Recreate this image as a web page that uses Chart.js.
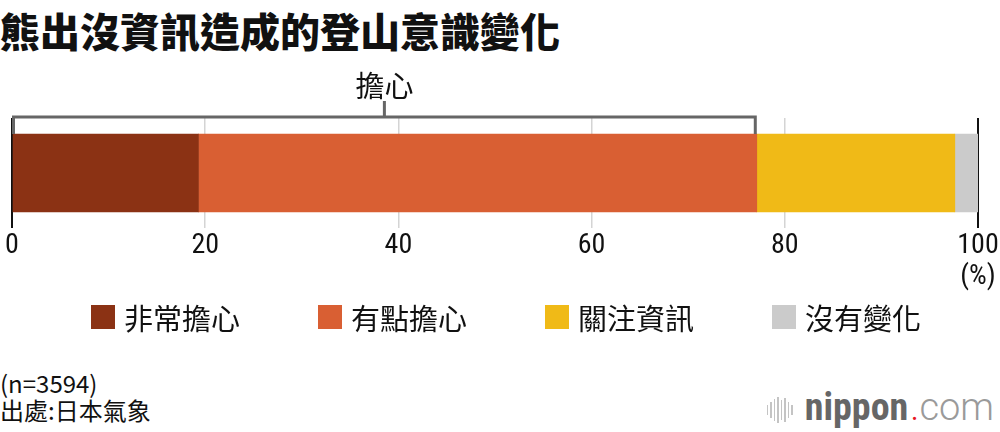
<!DOCTYPE html>
<html>
<head>
<meta charset="utf-8">
<script src="https://cdn.jsdelivr.net/npm/chart.js@4"></script>
<style>
  body { margin: 0; background: #fff; width: 1000px; height: 432px; overflow: hidden; position: relative; }
  .title { position: absolute; left: 0; top: 1px; font: 900 40px 'Noto Sans CJK TC', sans-serif; color: #111; }
  .chartBox { position: absolute; left: 0; top: 0; width: 1000px; height: 300px; }
  .legend { position: absolute; left: 0; top: 299px; width: 1000px; box-sizing: border-box; padding-left: 12px;
    display: flex; justify-content: center; gap: 78px;
    font: 29px 'Noto Sans CJK TC', sans-serif; color: #111; line-height: 36px; }
  .legend span { display: inline-flex; align-items: center; }
  .legend i { display: inline-block; width: 24px; height: 24px; margin-right: 9px; }
  .note { position: absolute; left: 0; font: 24px 'Noto Sans CJK TC', sans-serif; color: #111; }
  .logo { position: absolute; right: 6px; top: 385px; height: 44px; line-height: 44px; white-space: nowrap;
    font: 38px/44px 'Roboto Condensed', Roboto, sans-serif; color: #666; display: flex; align-items: baseline; }
  .logo b { font-weight: bold; }
  .logo .dot { color: #e8171f; font: 300 38px Roboto, sans-serif; margin-left: 2px; }
  .logo .com { color: #9a9a9a; font: 300 38px Roboto, sans-serif; }
  .logo .wave { display: inline-flex; align-items: center; gap: 2px; height: 26px; margin-right: 12px; align-self: center; margin-top: 6px; }
  .logo .wave s { display: block; width: 1.5px; background: #c4c4c4; }
</style>
</head>
<body>
<div class="title">熊出沒資訊造成的登山意識變化</div>
<div class="chartBox"><canvas id="mountainChart"></canvas></div>
<div class="legend" id="legend"></div>
<div class="note" style="top:365px">(n=3594)</div>
<div class="note" style="top:392px">出處:日本氣象</div>
<div class="logo"><span class="wave"><s style="height:10px"></s><s style="height:16px"></s><s style="height:22px"></s><s style="height:26px"></s><s style="height:20px"></s><s style="height:24px"></s><s style="height:16px"></s><s style="height:10px"></s></span><b>nippon</b><span class="dot">.</span><span class="com">com</span></div>

<script>
// categories / values (%)
const seriesLabels = ['非常擔心', '有點擔心', '關注資訊', '沒有變化'];
const seriesValues = [19.3, 57.8, 20.5, 2.4];
const seriesColors = ['#8b3214', '#d95f33', '#f0ba17', '#cbcbcb'];
const tickValues = [0, 20, 40, 60, 80, 100];
const bracketLabel = '擔心';
const bracketSeries = 2; // first two series are "擔心"

const numFont = "'Roboto Condensed', Roboto, sans-serif";
const cjkFont = "'Noto Sans CJK TC', sans-serif";

// html legend
document.getElementById('legend').innerHTML = seriesLabels
    .map((l, i) => '<span><i style="background:' + seriesColors[i] + '"></i>' + l + '</span>').join('');

// bracket over the "worried" part of the bar
const bracketPlugin = {
    id: 'bracket',
    afterDatasetsDraw(chart) {
        const xScale = chart.scales.x;
        const bar = chart.getDatasetMeta(0).data[0];
        const total = seriesValues.slice(0, bracketSeries).reduce((a, b) => a + b, 0);
        const x0 = xScale.getPixelForValue(0);
        const x1 = xScale.getPixelForValue(total);
        const barTop = bar.y - bar.height / 2;
        const yLine = barTop - 17;
        const ctx = chart.ctx;
        ctx.save();
        ctx.strokeStyle = '#666';
        ctx.lineWidth = 3;
        ctx.beginPath();
        ctx.moveTo(x0 + 1.5, barTop);
        ctx.lineTo(x0 + 1.5, yLine);
        ctx.lineTo(x1 - 1.5, yLine);
        ctx.lineTo(x1 - 1.5, barTop);
        const mid = (x0 + x1) / 2;
        ctx.moveTo(mid, yLine);
        ctx.lineTo(mid, yLine - 16);
        ctx.stroke();
        ctx.fillStyle = '#111';
        ctx.font = '29px ' + cjkFont;
        ctx.textAlign = 'center';
        ctx.textBaseline = 'alphabetic';
        ctx.fillText(bracketLabel, mid, yLine - 20);
        ctx.restore();
    }
};

const ctx = document.getElementById('mountainChart').getContext('2d');
new Chart(ctx, {
    type: 'bar',
    data: {
        labels: [''],
        datasets: seriesLabels.map((label, i) => ({
            label: label,
            data: [seriesValues[i]],
            backgroundColor: seriesColors[i],
            borderWidth: 0,
            barThickness: 78
        }))
    },
    options: {
        indexAxis: 'y',
        responsive: true,
        maintainAspectRatio: false,
        animation: false,
        layout: { padding: { top: 118, left: 12, right: 22, bottom: 0 } },
        scales: {
            x: {
                stacked: true,
                min: 0,
                max: 100,
                afterBuildTicks: axis => { axis.ticks = tickValues.map(v => ({ value: v })); },
                afterFit: axis => {
                    // fixed axis band so the plot area lands where the original has it
                    axis.height = 72;
                    axis.paddingLeft = 0;
                    axis.paddingRight = 0;
                },
                border: { display: false },
                grid: {
                    drawTicks: false,
                    color: c => (c.tick && (c.tick.value === 0 || c.tick.value === 100)) ? '#111' : '#d4d4d4',
                    lineWidth: c => (c.tick && (c.tick.value === 0 || c.tick.value === 100)) ? 2 : 1.5
                },
                ticks: {
                    padding: 3,
                    color: '#111',
                    font: { family: numFont, size: 28, lineHeight: 1.1 },
                    maxRotation: 0,
                    callback: v => v === 100 ? ['100', '(%)'] : String(v)
                }
            },
            y: {
                stacked: true,
                display: false
            }
        },
        plugins: {
            legend: { display: false },
            tooltip: { enabled: false }
        }
    },
    plugins: [bracketPlugin]
});
</script>
</body>
</html>
